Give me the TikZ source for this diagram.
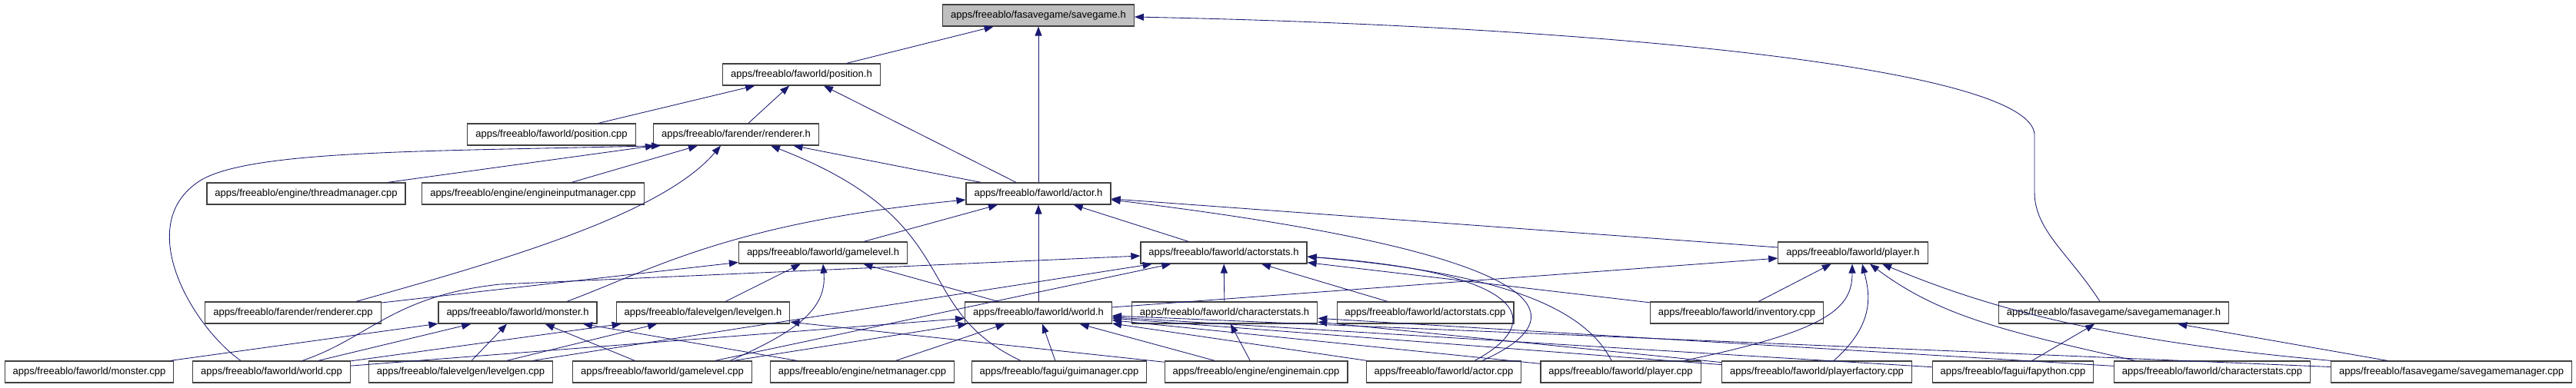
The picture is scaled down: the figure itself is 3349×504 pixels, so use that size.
\documentclass[tikz,border=0pt]{standalone}
\usepackage{fontspec}
\setmainfont{Liberation Sans}
\usepackage{xcolor}
\usetikzlibrary{arrows.meta}
\definecolor{edgeblue}{HTML}{191970}
\begin{document}
\begin{tikzpicture}[x=1pt,y=-1pt,>={Triangle[length=12pt,width=9pt]},
  file/.style={draw=black!75,line width=1.2pt,fill=white,inner xsep=10.5pt,inner ysep=0pt,
    minimum height=28pt,text height=9.5pt,text depth=3pt,font=\fontsize{13}{15}\selectfont},
  cur/.style={file,fill=black!25},
  dep/.style={->,draw=edgeblue,line width=0.85pt}]
  \useasboundingbox (0,0) rectangle (3349,504);
  % headers
  \node[cur]  (sgh)    at (1350,20)  {apps/freeablo/fasavegame/savegame.h};
  \node[file] (posh)   at (1042,97)  {apps/freeablo/faworld/position.h};
  \node[file] (poscpp) at (717,175)  {apps/freeablo/faworld/position.cpp};
  \node[file] (rh)     at (957,175)  {apps/freeablo/farender/renderer.h};
  \node[file] (tmcpp)  at (398,252)  {apps/freeablo/engine/threadmanager.cpp};
  \node[file] (eimcpp) at (693,252)  {apps/freeablo/engine/engineinputmanager.cpp};
  \node[file] (ah)     at (1350,252) {apps/freeablo/faworld/actor.h};
  \node[file] (glh)    at (1070,329) {apps/freeablo/faworld/gamelevel.h};
  \node[file] (ash)    at (1591,329) {apps/freeablo/faworld/actorstats.h};
  \node[file] (plh)    at (2409,329) {apps/freeablo/faworld/player.h};
  \node[file] (rcpp)   at (381,407)  {apps/freeablo/farender/renderer.cpp};
  \node[file] (mh)     at (673,407)  {apps/freeablo/faworld/monster.h};
  \node[file] (lgh)    at (914,407)  {apps/freeablo/falevelgen/levelgen.h};
  \node[file] (wh)     at (1350,407) {apps/freeablo/faworld/world.h};
  \node[file] (csh)    at (1592,407) {apps/freeablo/faworld/characterstats.h};
  \node[file] (ascpp)  at (1853,407) {apps/freeablo/faworld/actorstats.cpp};
  \node[file] (invcpp) at (2258,407) {apps/freeablo/faworld/inventory.cpp};
  \node[file] (smh)    at (2748,407) {apps/freeablo/fasavegame/savegamemanager.h};
  % sources
  \node[file] (mcpp)   at (116,484)  {apps/freeablo/faworld/monster.cpp};
  \node[file] (wcpp)   at (353,484)  {apps/freeablo/faworld/world.cpp};
  \node[file] (lgcpp)  at (599,484)  {apps/freeablo/falevelgen/levelgen.cpp};
  \node[file] (glcpp)  at (861,484)  {apps/freeablo/faworld/gamelevel.cpp};
  \node[file] (nmcpp)  at (1121,484) {apps/freeablo/engine/netmanager.cpp};
  \node[file] (guicpp) at (1377,484) {apps/freeablo/fagui/guimanager.cpp};
  \node[file] (emcpp)  at (1633,484) {apps/freeablo/engine/enginemain.cpp};
  \node[file] (acpp)   at (1877,484) {apps/freeablo/faworld/actor.cpp};
  \node[file] (pcpp)   at (2107,484) {apps/freeablo/faworld/player.cpp};
  \node[file] (pfcpp)  at (2362,484) {apps/freeablo/faworld/playerfactory.cpp};
  \node[file] (fpcpp)  at (2617,484) {apps/freeablo/fagui/fapython.cpp};
  \node[file] (cscpp)  at (2876,484) {apps/freeablo/faworld/characterstats.cpp};
  \node[file] (smcpp)  at (3187,484) {apps/freeablo/fasavegame/savegamemanager.cpp};
  % savegame.h
  \draw[dep] (posh) -- (sgh);
  \draw[dep] (ah) -- (sgh);
  \draw[dep] ([xshift=-18pt]smh.north) .. controls (2690,330) and (2645,300) .. (2645,250)
    -- (2645,175) .. controls (2640,90) and (2100,35) .. ([yshift=-2pt]sgh.east);
  % position.h
  \draw[dep] (poscpp) -- (posh);
  \draw[dep] (rh) -- (posh);
  \draw[dep] (ah) -- (posh);
  % renderer.h
  \draw[dep] ([xshift=-40pt]wcpp.north) .. controls (250,425) and (170,290) .. (262,234)
    .. controls (330,195) and (560,197) .. ([xshift=10pt]rh.south west);
  \draw[dep] (tmcpp) -- (rh);
  \draw[dep] (eimcpp) -- (rh);
  \draw[dep] ([xshift=82pt]rcpp.north) .. controls (650,340) and (860,280) .. ([xshift=-20pt]rh.south);
  \draw[dep] ([xshift=-50pt]guicpp.north) .. controls (1180,400) and (1260,290) .. ([xshift=45pt]rh.south);
  \draw[dep] (ah) -- (rh);
  % actor.h
  \draw[dep] ([xshift=64pt]mh.north) .. controls (850,350) and (950,290) .. ([yshift=-8pt]ah.west);
  \draw[dep] (glh) -- (ah);
  \draw[dep] (wh) -- (ah);
  \draw[dep] (ash) -- (ah);
  \draw[dep] (plh) -- (ah);
  \draw[dep] ([xshift=50pt]acpp.north) .. controls (2060,410) and (2020,330) .. ([yshift=-8pt]ah.east);
  % gamelevel.h
  \draw[dep] (rcpp) -- (glh);
  \draw[dep] (lgh) -- (glh);
  \draw[dep] ([xshift=88pt]glcpp.north) .. controls (1040,430) and (1075,400) .. (glh.south);
  \draw[dep] (wh) -- (glh);
  % actorstats.h
  \draw[dep] ([xshift=40pt]wcpp.north) .. controls (480,440) and (510,385) .. (650,370)
    -- ([yshift=-4pt]ash.west);
  \draw[dep] (lgcpp) -- (ash);
  \draw[dep] (glcpp) -- (ash);
  \draw[dep] (csh) -- (ash);
  \draw[dep] (ascpp) -- (ash);
  \draw[dep] ([xshift=40pt]acpp.north) .. controls (2010,420) and (1990,355) .. ([yshift=-5pt]ash.east);
  \draw[dep] ([xshift=-12pt]pcpp.north) .. controls (2060,400) and (1950,355) .. ([yshift=-5pt]ash.east);
  \draw[dep] (invcpp) -- (ash);
  % player.h
  \draw[dep] (wh) -- (plh);
  \draw[dep] (invcpp) -- (plh);
  \draw[dep] ([xshift=82pt]pcpp.north) .. controls (2380,430) and (2408,400) .. ([xshift=-1pt]plh.south);
  \draw[dep] ([xshift=22pt]pfcpp.north) .. controls (2440,420) and (2430,380) .. ([xshift=12pt]plh.south);
  \draw[dep] ([xshift=-100pt]cscpp.north) .. controls (2600,430) and (2520,410) .. ([xshift=22pt]plh.south);
  \draw[dep] ([xshift=-157pt]smcpp.north) .. controls (2700,440) and (2560,390) .. ([xshift=38pt]plh.south);
  % savegamemanager.h
  \draw[dep] (fpcpp) -- (smh);
  \draw[dep] (smcpp) -- (smh);
  % monster.h
  \draw[dep] (mcpp) -- (mh);
  \draw[dep] (wcpp) -- (mh);
  \draw[dep] (lgcpp) -- (mh);
  \draw[dep] (glcpp) -- (mh);
  \draw[dep] (nmcpp) -- (mh);
  % levelgen.h
  \draw[dep] (wcpp) -- (lgh);
  \draw[dep] (lgcpp) -- (lgh);
  \draw[dep] (emcpp) -- (lgh);
  % world.h
  \draw[dep] (wcpp) -- (wh);
  \draw[dep] (glcpp) -- (wh);
  \draw[dep] (nmcpp) -- (wh);
  \draw[dep] (guicpp) -- (wh);
  \draw[dep] (emcpp) -- (wh);
  \draw[dep] (acpp) -- (wh);
  \draw[dep] (pcpp) -- (wh);
  \draw[dep] (pfcpp) -- (wh);
  \draw[dep] (fpcpp) -- (wh);
  \draw[dep] (smcpp) -- (wh);
  % characterstats.h
  \draw[dep] (emcpp) -- (csh);
  \draw[dep] (pfcpp) -- (csh);
  \draw[dep] (cscpp) -- (csh);
\end{tikzpicture}
\end{document}
